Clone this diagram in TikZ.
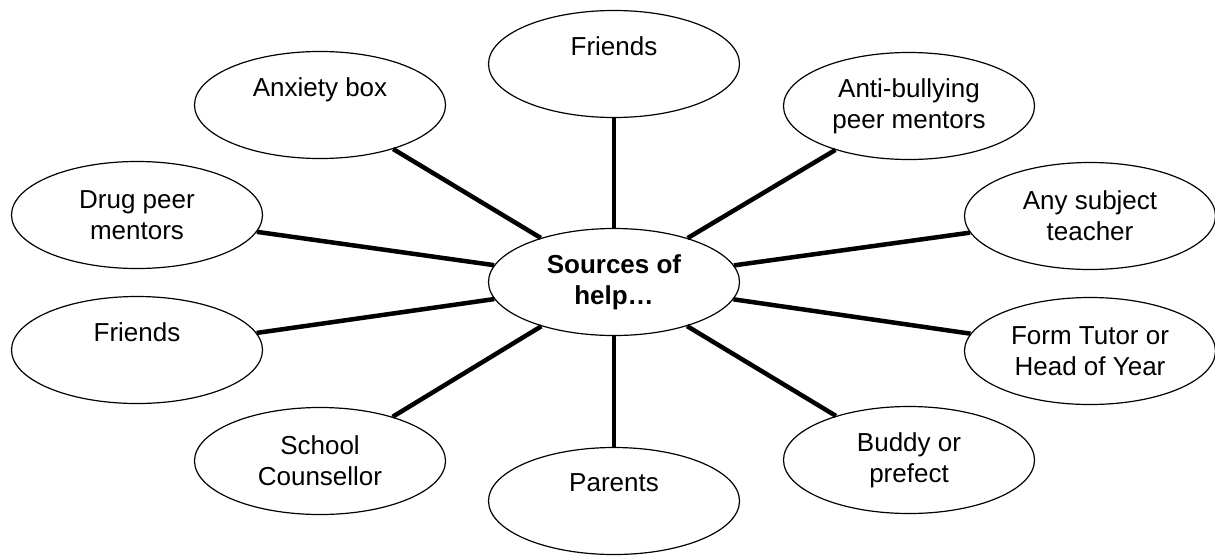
\documentclass[tikz,border=0pt]{standalone}
\usepackage{fontspec}
\setmainfont{Liberation Sans}
\usetikzlibrary{shapes.geometric}
\begin{document}
\begin{tikzpicture}[x=1pt,y=-1pt,
  bubble/.style={ellipse,draw=black,line width=1.2pt,fill=white,minimum width=251pt,minimum height=107pt,inner sep=0pt,align=center,font=\fontsize{26}{31}\selectfont},
  spoke/.style={line width=4.5pt,black}]
\useasboundingbox (0,0) rectangle (1215,555);
\node[bubble] (c) at (614,282) {\textbf{Sources of}\\\textbf{help…}};
\node[bubble] (friendsT) at (614,64) {Friends\\\phantom{Fg}};
\node[bubble] (anxiety) at (320,105) {Anxiety box\\\phantom{Fg}};
\node[bubble] (anti) at (909,106) {Anti-bullying\\peer mentors};
\node[bubble] (drug) at (137,215) {Drug peer\\mentors};
\node[bubble] (anysubj) at (1090,216) {Any subject\\teacher};
\node[bubble] (friendsL) at (137,350) {Friends\\\phantom{Fg}};
\node[bubble] (form) at (1090,351) {Form Tutor or\\Head of Year};
\node[bubble] (school) at (320,461) {School\\Counsellor};
\node[bubble] (parents) at (614,501) {Parents\\\phantom{Fg}};
\node[bubble] (buddy) at (909,460) {Buddy or\\prefect};
\foreach \n in {friendsT,anxiety,anti,drug,anysubj,friendsL,form,school,parents,buddy}
  \draw[spoke] (\n) -- (c);
\end{tikzpicture}
\end{document}
